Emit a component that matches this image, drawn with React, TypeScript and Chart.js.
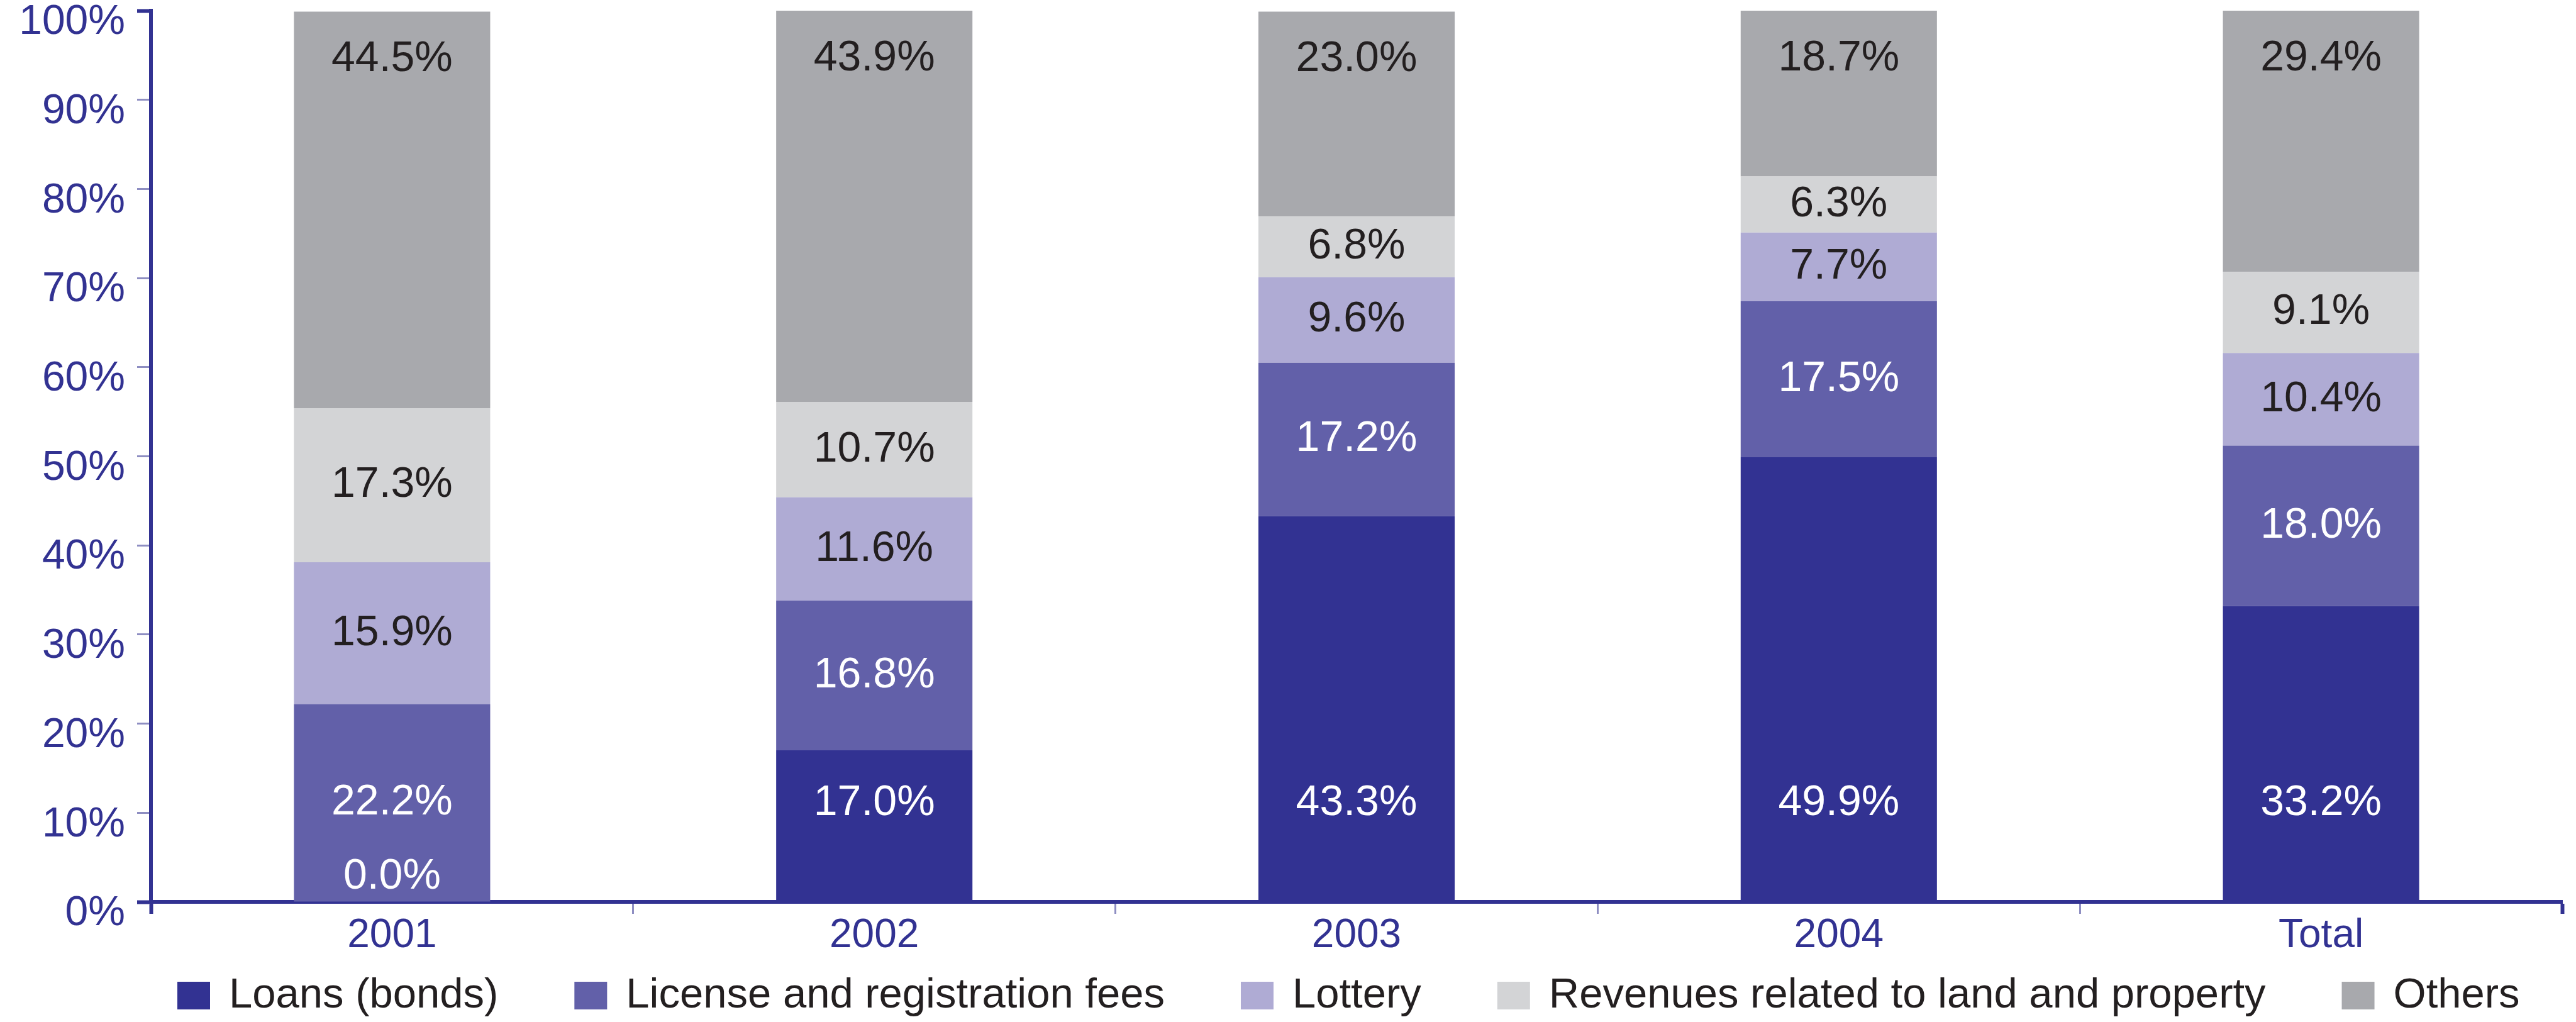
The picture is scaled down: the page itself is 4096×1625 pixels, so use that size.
import React, { useEffect, useRef } from "react";
import { Chart, registerables } from "chart.js";

Chart.register(...registerables);

// ---- data ----
const categories = ["2001", "2002", "2003", "2004", "Total"];
const seriesNames = [
  "Loans (bonds)",
  "License and registration fees",
  "Lottery",
  "Revenues related to land and property",
  "Others",
];
const loans = [0.0, 17.0, 43.3, 49.9, 33.2];
const license = [22.2, 16.8, 17.2, 17.5, 18.0];
const lottery = [15.9, 11.6, 9.6, 7.7, 10.4];
const revenues = [17.3, 10.7, 6.8, 6.3, 9.1];
const others = [44.5, 43.9, 23.0, 18.7, 29.4];
const yMin = 0;
const yMax = 100;
const yStep = 10;

// ---- style ----
const W = 4096;
const H = 1625;
const FONT = '"Liberation Sans", Arial, Helvetica, sans-serif';
const AXIS = "#323292";
const THIN_TICK = "#8e8ec2";
const TEXT_DARK = "#231f20";
const seriesColors = ["#323292", "#6260a9", "#afabd4", "#d3d4d6", "#a8a9ad"];

const valueLabelPlugin = {
  id: "valueLabels",
  afterDatasetsDraw(chart: any) {
    const ctx = chart.ctx;
    const n = chart.data.datasets.length;
    const area = chart.chartArea;
    ctx.save();
    ctx.font = `68px ${FONT}`;
    ctx.textAlign = "center";
    ctx.textBaseline = "middle";
    chart.data.datasets.forEach((ds: any, i: number) => {
      const meta = chart.getDatasetMeta(i);
      meta.data.forEach((el: any, j: number) => {
        const v = ds.data[j];
        const top = Math.max(Math.min(el.y, el.base), area.top);
        const bottom = Math.max(el.y, el.base);
        let y: number;
        if (i === 0) y = bottom - (v > 0 ? 156 : 40);
        else if (i === n - 1) y = top + 76;
        else y = (top + bottom) / 2;
        ctx.fillStyle = i < 2 ? "#ffffff" : TEXT_DARK;
        ctx.fillText(v.toFixed(1) + "%", el.x, y);
      });
    });
    ctx.restore();
  },
};

const legendPlugin = {
  id: "bottomLegend",
  afterDraw(chart: any) {
    const ctx = chart.ctx;
    ctx.save();
    ctx.font = `67px ${FONT}`;
    ctx.textAlign = "left";
    ctx.textBaseline = "middle";
    const cy = 1583;
    let x = 282;
    chart.data.datasets.forEach((ds: any) => {
      ctx.fillStyle = ds.backgroundColor;
      ctx.fillRect(x, cy - 22, 52, 44);
      ctx.fillStyle = TEXT_DARK;
      ctx.fillText(ds.label, x + 82, cy + 1);
      x += 82 + ctx.measureText(ds.label).width + 121;
    });
    ctx.restore();
  },
};

const isEdgeY = (c: any) => c.tick && (c.tick.value === yMin || c.tick.value === yMax);
const isEdgeX = (c: any) => c.type !== "tick" || c.index === 0;

export default function App() {
  const ref = useRef<HTMLCanvasElement | null>(null);

  useEffect(() => {
    if (!ref.current) return;
    const seriesValues = [loans, license, lottery, revenues, others];
    const chart = new Chart(ref.current, {
      type: "bar",
      data: {
        labels: categories,
        datasets: seriesValues.map((vals, i) => ({
          label: seriesNames[i],
          data: vals,
          backgroundColor: seriesColors[i],
          borderWidth: 0,
          categoryPercentage: 1,
          barPercentage: 0.407,
        })),
      },
      options: {
        responsive: false,
        devicePixelRatio: 1,
        animation: false,
        layout: { autoPadding: false, padding: { left: 0, right: 22, top: 17, bottom: 0 } },
        plugins: {
          legend: { display: false },
          tooltip: { enabled: false },
        },
        scales: {
          x: {
            stacked: true,
            afterFit: (s: any) => {
              s.height = 191;
              s.paddingLeft = 0;
              s.paddingRight = 0;
            },
            grid: {
              offset: true,
              drawOnChartArea: false,
              drawTicks: true,
              tickLength: 19,
              tickColor: (c: any) => (isEdgeX(c) ? AXIS : THIN_TICK),
              tickWidth: (c: any) => (isEdgeX(c) ? 6 : 3),
            },
            border: { display: true, color: AXIS, width: 6 },
            ticks: {
              color: AXIS,
              font: { family: FONT, size: 64, lineHeight: 1 },
              padding: 3,
              maxRotation: 0,
            },
          },
          y: {
            stacked: true,
            min: yMin,
            max: yMax,
            afterFit: (s: any) => {
              s.width = 240;
              s.paddingTop = 0;
              s.paddingBottom = 0;
            },
            grid: {
              drawOnChartArea: false,
              drawTicks: true,
              tickLength: 22,
              tickColor: (c: any) => (isEdgeY(c) ? AXIS : THIN_TICK),
              tickWidth: (c: any) => (isEdgeY(c) ? 6 : 3),
            },
            border: { display: true, color: AXIS, width: 6 },
            ticks: {
              stepSize: yStep,
              color: AXIS,
              font: { family: FONT, size: 66, lineHeight: 1 },
              padding: 19,
              labelOffset: 19,
              callback: (v: any) => `${v}%`,
            },
          },
        },
      },
      plugins: [valueLabelPlugin, legendPlugin],
    });
    return () => chart.destroy();
  }, []);

  return (
    <div style={{ position: "fixed", left: 0, top: 0, width: W, height: H, background: "#ffffff" }}>
      <canvas ref={ref} width={W} height={H} style={{ display: "block", width: W, height: H }} />
    </div>
  );
}
